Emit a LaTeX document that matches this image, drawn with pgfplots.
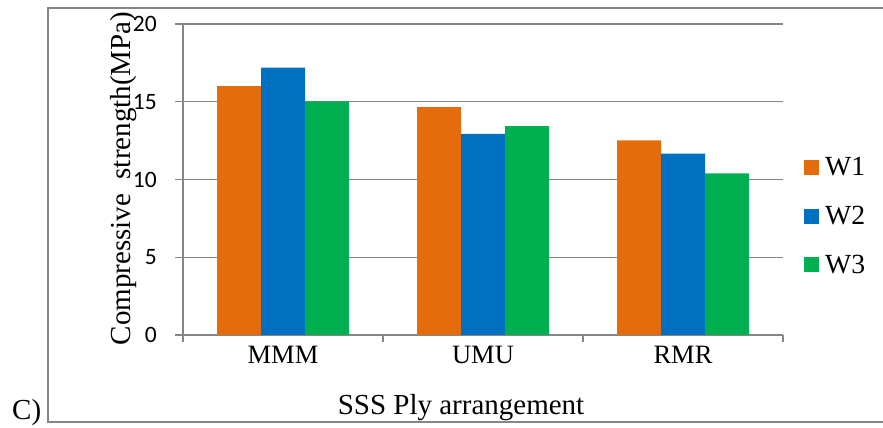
\documentclass[border=0pt]{standalone}
\usepackage{pgfplots}
\pgfplotsset{compat=1.18}
\usepackage{fontspec}
\setmainfont{Liberation Serif}
\newfontfamily\calibri{Carlito}
\definecolor{wO}{RGB}{228,108,10}
\definecolor{wB}{RGB}{0,112,192}
\definecolor{wG}{RGB}{0,176,80}
\definecolor{axgray}{RGB}{134,134,134}
\begin{document}
\begin{tikzpicture}[x=1pt,y=1pt]
\useasboundingbox (0,0) rectangle (883,428);
\draw[axgray, line width=1.3pt] (886,420) -- (48,420) -- (48,6) -- (886,6);
\begin{axis}[
  at={(183pt,93pt)}, anchor=south west, scale only axis,
  width=600pt, height=311pt,
  ybar=0pt, bar width=44pt,
  xmin=-0.5, xmax=2.5, ymin=0, ymax=20,
  xtick={0,1,2}, xticklabels={MMM,UMU,RMR},
  minor xtick={-0.5,0.5,1.5,2.5},
  ytick={0,5,10,15,20},
  axis x line*=bottom, axis y line*=left,
  axis line style={axgray, line width=1.3pt, -},
  tick align=outside,
  major tick length=8pt, minor tick length=7pt,
  major x tick style={draw=none},
  minor x tick style={axgray, line width=1.3pt},
  y tick style={axgray, line width=1.3pt},
  ymajorgrids, major grid style={axgray, line width=1.3pt},
  /pgf/number format/assume math mode=true,
  yticklabel style={font=\calibri\fontsize{23.5}{28}\selectfont, inner sep=0pt, xshift=-18pt},
  xticklabel style={font=\fontsize{26.5}{30}\selectfont},
  legend style={at={(rel axis cs:1.035,0.572)}, anchor=north west, draw=none, fill=none,
    font=\fontsize{27.7}{30}\selectfont, row sep=29pt, inner sep=0pt,
    nodes={inner sep=0pt}},
  legend image code/.code={\fill[#1] (0pt,-7.5pt) rectangle (15pt,7.5pt); \path (21pt,0pt);},
]
\addplot[fill=wO, draw=none] coordinates {(0,16.0) (1,14.65) (2,12.52)};
\addplot[fill=wB, draw=none] coordinates {(0,17.2) (1,12.93) (2,11.66)};
\addplot[fill=wG, draw=none] coordinates {(0,15.02) (1,13.44) (2,10.40)};
\legend{W1,W2,W3}
\end{axis}
\node[rotate=90, anchor=base, inner sep=0pt, font=\fontsize{29}{32}\selectfont] at (130,249.5) {Compressive\ \ strength(MPa)};
\node[anchor=base, inner sep=0pt, font=\fontsize{29}{32}\selectfont] at (461,13) {SSS Ply arrangement};
\node[anchor=base west, inner sep=0pt, font=\fontsize{29}{32}\selectfont] at (12,8) {C)};
\end{tikzpicture}
\end{document}
